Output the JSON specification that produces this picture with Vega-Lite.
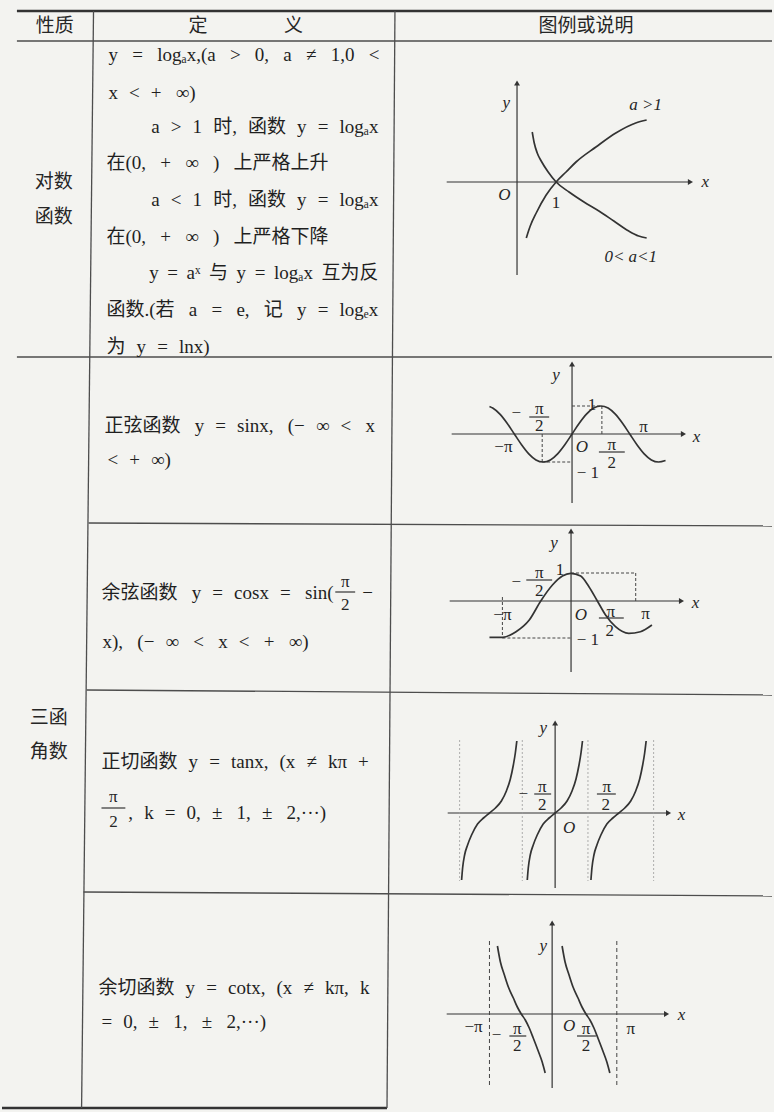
{
  "$schema": "https://vega.github.io/schema/vega-lite/v6.json",
  "width": 774,
  "height": 1112,
  "autosize": {"type": "fit", "contains": "padding"},
  "padding": 0,
  "background": "#f3f3f0",
  "config": {"view": {"stroke": null}},
  "datasets": {
    "rules": [
      {"g": "thick", "x": 15, "y": 11, "x2": 774, "y2": 11},
      {"g": "thick", "x": 0, "y": 1108, "x2": 387, "y2": 1108},
      {"g": "grid", "x": 15, "y": 41, "x2": 774, "y2": 41},
      {"g": "grid", "x": 15, "y": 357, "x2": 774, "y2": 357},
      {"g": "grid", "x": 87, "y": 523, "x2": 774, "y2": 526},
      {"g": "grid", "x": 85, "y": 690, "x2": 774, "y2": 695},
      {"g": "grid", "x": 82, "y": 892, "x2": 774, "y2": 896},
      {"g": "grid", "x": 92, "y": 11, "x2": 80, "y2": 1108},
      {"g": "grid", "x": 395, "y": 11, "x2": 387, "y2": 1108},
      {"g": "axis", "x": 447, "y": 182, "x2": 690, "y2": 182},
      {"g": "axis", "x": 517.7, "y": 275, "x2": 517.7, "y2": 85},
      {"g": "axis", "x": 452, "y": 434, "x2": 683, "y2": 434},
      {"g": "axis", "x": 573, "y": 503, "x2": 573, "y2": 366},
      {"g": "axis", "x": 450, "y": 601, "x2": 681, "y2": 601},
      {"g": "axis", "x": 572, "y": 672, "x2": 572, "y2": 533},
      {"g": "axis", "x": 448, "y": 813, "x2": 668, "y2": 813},
      {"g": "axis", "x": 556, "y": 888, "x2": 556, "y2": 725},
      {"g": "axis", "x": 447, "y": 1014, "x2": 666, "y2": 1014},
      {"g": "axis", "x": 553, "y": 1088, "x2": 553, "y2": 925},
      {"g": "frac", "x": 530, "y": 417, "x2": 550, "y2": 417},
      {"g": "frac", "x": 600, "y": 452, "x2": 626, "y2": 452},
      {"g": "frac", "x": 527, "y": 580, "x2": 553, "y2": 580},
      {"g": "frac", "x": 600, "y": 618, "x2": 625, "y2": 618},
      {"g": "frac", "x": 535, "y": 794, "x2": 552, "y2": 794},
      {"g": "frac", "x": 598, "y": 794, "x2": 617, "y2": 794},
      {"g": "frac", "x": 510, "y": 1036, "x2": 527, "y2": 1036},
      {"g": "frac", "x": 578, "y": 1036, "x2": 597, "y2": 1036},
      {"g": "frac", "x": 335, "y": 592, "x2": 355, "y2": 592},
      {"g": "frac", "x": 100, "y": 808, "x2": 124, "y2": 808},
      {"g": "dash", "x": 573, "y": 406, "x2": 603, "y2": 406},
      {"g": "dash", "x": 603, "y": 406, "x2": 603, "y2": 434},
      {"g": "dash", "x": 543, "y": 434, "x2": 543, "y2": 462},
      {"g": "dash", "x": 543, "y": 462, "x2": 573, "y2": 462},
      {"g": "dash", "x": 572, "y": 573, "x2": 637, "y2": 573},
      {"g": "dash", "x": 637, "y": 573, "x2": 637, "y2": 601},
      {"g": "dash", "x": 503, "y": 597, "x2": 503, "y2": 637},
      {"g": "dash", "x": 503, "y": 638, "x2": 572, "y2": 638},
      {"g": "dash2", "x": 490, "y": 941, "x2": 490, "y2": 1085},
      {"g": "dash2", "x": 618, "y": 941, "x2": 618, "y2": 1085},
      {"g": "asym", "x": 460, "y": 740, "x2": 460, "y2": 881},
      {"g": "asym", "x": 523, "y": 740, "x2": 523, "y2": 881},
      {"g": "asym", "x": 589, "y": 740, "x2": 589, "y2": 881},
      {"g": "asym", "x": 655, "y": 740, "x2": 655, "y2": 881}
    ],
    "arrows": [
      {"d": "r", "x": 692, "y": 182}, {"d": "u", "x": 517.7, "y": 83},
      {"d": "r", "x": 685, "y": 434}, {"d": "u", "x": 573, "y": 364},
      {"d": "r", "x": 683, "y": 601}, {"d": "u", "x": 572, "y": 531},
      {"d": "r", "x": 670, "y": 813}, {"d": "u", "x": 556, "y": 723},
      {"d": "r", "x": 668, "y": 1014}, {"d": "u", "x": 553, "y": 923}
    ],
    "curves": [
      {"c": "loga", "x": 527, "y": 238}, {"c": "loga", "x": 531, "y": 226}, {"c": "loga", "x": 537, "y": 213},
      {"c": "loga", "x": 547, "y": 195}, {"c": "loga", "x": 557, "y": 182}, {"c": "loga", "x": 567, "y": 172},
      {"c": "loga", "x": 577, "y": 162}, {"c": "loga", "x": 597, "y": 147}, {"c": "loga", "x": 617, "y": 133},
      {"c": "loga", "x": 637, "y": 123}, {"c": "loga", "x": 648, "y": 120},
      {"c": "logb", "x": 533, "y": 132}, {"c": "logb", "x": 535, "y": 143}, {"c": "logb", "x": 538, "y": 153},
      {"c": "logb", "x": 542, "y": 161}, {"c": "logb", "x": 549, "y": 172}, {"c": "logb", "x": 557, "y": 182},
      {"c": "logb", "x": 570, "y": 192}, {"c": "logb", "x": 585, "y": 202}, {"c": "logb", "x": 600, "y": 211},
      {"c": "logb", "x": 615, "y": 221}, {"c": "logb", "x": 630, "y": 231}, {"c": "logb", "x": 640, "y": 236},
      {"c": "logb", "x": 648, "y": 238},
      {"c": "sin", "x": 490, "y": 406.5}, {"c": "sin", "x": 493.25, "y": 408.1}, {"c": "sin", "x": 500.5, "y": 414.2},
      {"c": "sin", "x": 507.75, "y": 423.3}, {"c": "sin", "x": 515, "y": 434}, {"c": "sin", "x": 522.25, "y": 444.7},
      {"c": "sin", "x": 529.5, "y": 453.8}, {"c": "sin", "x": 536.75, "y": 459.9}, {"c": "sin", "x": 544, "y": 462},
      {"c": "sin", "x": 551.25, "y": 459.9}, {"c": "sin", "x": 558.5, "y": 453.8}, {"c": "sin", "x": 565.75, "y": 444.7},
      {"c": "sin", "x": 573, "y": 434}, {"c": "sin", "x": 580.25, "y": 423.3}, {"c": "sin", "x": 587.5, "y": 414.2},
      {"c": "sin", "x": 594.75, "y": 408.1}, {"c": "sin", "x": 602, "y": 406}, {"c": "sin", "x": 609.25, "y": 408.1},
      {"c": "sin", "x": 616.5, "y": 414.2}, {"c": "sin", "x": 623.75, "y": 423.3}, {"c": "sin", "x": 631, "y": 434},
      {"c": "sin", "x": 638.25, "y": 444.7}, {"c": "sin", "x": 645.5, "y": 453.8}, {"c": "sin", "x": 652.75, "y": 459.9},
      {"c": "sin", "x": 660, "y": 462}, {"c": "sin", "x": 667, "y": 460.5},
      {"c": "cos", "x": 490, "y": 637.3}, {"c": "cos", "x": 503.3, "y": 637.3}, {"c": "cos", "x": 516.7, "y": 631.7},
      {"c": "cos", "x": 530, "y": 620}, {"c": "cos", "x": 541.7, "y": 600.7}, {"c": "cos", "x": 553.3, "y": 585},
      {"c": "cos", "x": 563.3, "y": 576}, {"c": "cos", "x": 571.7, "y": 573.3}, {"c": "cos", "x": 581.7, "y": 576},
      {"c": "cos", "x": 590, "y": 586.7}, {"c": "cos", "x": 598.3, "y": 600.7}, {"c": "cos", "x": 606.7, "y": 615},
      {"c": "cos", "x": 616.7, "y": 626.7}, {"c": "cos", "x": 630, "y": 633.3}, {"c": "cos", "x": 641.7, "y": 631.7},
      {"c": "cos", "x": 653.3, "y": 625},
      {"c": "tan1", "x": 462, "y": 880}, {"c": "tan1", "x": 463, "y": 868}, {"c": "tan1", "x": 465, "y": 855},
      {"c": "tan1", "x": 468, "y": 845}, {"c": "tan1", "x": 472, "y": 835}, {"c": "tan1", "x": 478, "y": 824},
      {"c": "tan1", "x": 484, "y": 818}, {"c": "tan1", "x": 490, "y": 813}, {"c": "tan1", "x": 496, "y": 808},
      {"c": "tan1", "x": 502, "y": 801}, {"c": "tan1", "x": 507, "y": 791}, {"c": "tan1", "x": 511, "y": 779},
      {"c": "tan1", "x": 514, "y": 765}, {"c": "tan1", "x": 516, "y": 753}, {"c": "tan1", "x": 517.5, "y": 741},
      {"c": "tan2", "x": 528, "y": 880}, {"c": "tan2", "x": 529, "y": 868}, {"c": "tan2", "x": 531, "y": 855},
      {"c": "tan2", "x": 534, "y": 845}, {"c": "tan2", "x": 538, "y": 835}, {"c": "tan2", "x": 544, "y": 824},
      {"c": "tan2", "x": 550, "y": 818}, {"c": "tan2", "x": 556, "y": 813}, {"c": "tan2", "x": 562, "y": 808},
      {"c": "tan2", "x": 568, "y": 801}, {"c": "tan2", "x": 573, "y": 791}, {"c": "tan2", "x": 577, "y": 779},
      {"c": "tan2", "x": 580, "y": 765}, {"c": "tan2", "x": 582, "y": 753}, {"c": "tan2", "x": 583.5, "y": 741},
      {"c": "tan3", "x": 592, "y": 880}, {"c": "tan3", "x": 593, "y": 868}, {"c": "tan3", "x": 595, "y": 855},
      {"c": "tan3", "x": 598, "y": 845}, {"c": "tan3", "x": 602, "y": 835}, {"c": "tan3", "x": 608, "y": 824},
      {"c": "tan3", "x": 614, "y": 818}, {"c": "tan3", "x": 620, "y": 813}, {"c": "tan3", "x": 626, "y": 808},
      {"c": "tan3", "x": 632, "y": 801}, {"c": "tan3", "x": 637, "y": 791}, {"c": "tan3", "x": 641, "y": 779},
      {"c": "tan3", "x": 644, "y": 765}, {"c": "tan3", "x": 646, "y": 753}, {"c": "tan3", "x": 647.5, "y": 741},
      {"c": "cot1", "x": 498, "y": 946}, {"c": "cot1", "x": 501, "y": 962}, {"c": "cot1", "x": 505, "y": 975},
      {"c": "cot1", "x": 509, "y": 987}, {"c": "cot1", "x": 514, "y": 998}, {"c": "cot1", "x": 518, "y": 1007},
      {"c": "cot1", "x": 522, "y": 1014}, {"c": "cot1", "x": 526, "y": 1020}, {"c": "cot1", "x": 530, "y": 1028},
      {"c": "cot1", "x": 534, "y": 1038}, {"c": "cot1", "x": 539, "y": 1051}, {"c": "cot1", "x": 543, "y": 1062},
      {"c": "cot1", "x": 546, "y": 1073},
      {"c": "cot2", "x": 563, "y": 946}, {"c": "cot2", "x": 566, "y": 962}, {"c": "cot2", "x": 570, "y": 975},
      {"c": "cot2", "x": 574, "y": 987}, {"c": "cot2", "x": 579, "y": 998}, {"c": "cot2", "x": 583, "y": 1007},
      {"c": "cot2", "x": 587, "y": 1014}, {"c": "cot2", "x": 591, "y": 1020}, {"c": "cot2", "x": 595, "y": 1028},
      {"c": "cot2", "x": 599, "y": 1038}, {"c": "cot2", "x": 604, "y": 1051}, {"c": "cot2", "x": 608, "y": 1062},
      {"c": "cot2", "x": 611, "y": 1073}
    ],
    "texts": [
      {"g": "head", "x": 53, "y": 26, "t": "性质"},
      {"g": "head", "x": 197, "y": 26, "t": "定"},
      {"g": "head", "x": 293, "y": 26, "t": "义"},
      {"g": "head", "x": 587, "y": 26, "t": "图例或说明"},
      {"g": "head", "x": 52, "y": 182, "t": "对数"},
      {"g": "head", "x": 52, "y": 217, "t": "函数"},
      {"g": "head", "x": 47, "y": 718, "t": "三函"},
      {"g": "head", "x": 47, "y": 752, "t": "角数"},
      {"g": "body", "x": 107, "y": 55, "t": "y \u2002= \u2002logₐx,(a \u2002> \u20020, \u2002a \u2002≠ \u20021,0 \u2002<"},
      {"g": "body", "x": 107, "y": 93, "t": "x \u2004< \u2004+ \u2002∞)"},
      {"g": "body", "x": 150, "y": 127, "t": "a \u2004> \u20041 \u2004时, \u2004函数 \u2004y \u2004= \u2004logₐx"},
      {"g": "body", "x": 105, "y": 163, "t": "在(0, \u2002+ \u2002∞ \u2002) \u2002上严格上升"},
      {"g": "body", "x": 150, "y": 200, "t": "a \u2004< \u20041 \u2004时, \u2004函数 \u2004y \u2004= \u2004logₐx"},
      {"g": "body", "x": 105, "y": 237, "t": "在(0, \u2002+ \u2002∞ \u2002) \u2002上严格下降"},
      {"g": "body", "x": 148, "y": 273, "t": "y \u2009= \u2009aˣ \u2009与 \u2009y \u2009= \u2009logₐx \u2009互为反"},
      {"g": "body", "x": 105, "y": 310, "t": "函数.(若 \u2002a \u2002= \u2002e, \u2002记 \u2002y \u2004= \u2004logₑx"},
      {"g": "body", "x": 105, "y": 347, "t": "为 \u2004y \u2004= \u2004lnx)"},
      {"g": "body", "x": 103, "y": 426, "t": "正弦函数 \u2002y \u2004= \u2004sinx, \u2002(− \u2004∞ \u2004< \u2002x"},
      {"g": "body", "x": 106, "y": 460, "t": "< \u2004+ \u2004∞)"},
      {"g": "body", "x": 100, "y": 593, "t": "余弦函数 \u2002y \u2004= \u2004cosx \u2004= \u2002sin("},
      {"g": "body", "x": 362, "y": 593, "t": "−"},
      {"g": "body", "x": 101, "y": 642, "t": "x), \u2002(− \u2004∞ \u2002< \u2002x \u2004< \u2002+ \u2002∞)"},
      {"g": "body", "x": 100, "y": 762, "t": "正切函数 \u2004y \u2004= \u2004tanx, \u2004(x \u2004≠ \u2004kπ \u2004+"},
      {"g": "body", "x": 127, "y": 813, "t": ", \u2004k \u2004= \u20040, \u2004± \u20021, \u2004± \u20022,···)"},
      {"g": "body", "x": 97, "y": 988, "t": "余切函数 \u2004y \u2004= \u2004cotx, \u2004(x \u2004≠ \u2004kπ, \u2004k"},
      {"g": "body", "x": 100, "y": 1022, "t": "= \u20040, \u2004± \u20021, \u2002± \u20022,···)"},
      {"g": "num", "x": 345, "y": 582, "t": "π"},
      {"g": "num", "x": 345, "y": 605, "t": "2"},
      {"g": "num", "x": 112, "y": 797, "t": "π"},
      {"g": "num", "x": 112, "y": 822, "t": "2"},
      {"g": "it", "x": 507, "y": 103, "t": "y"},
      {"g": "it", "x": 647, "y": 105, "t": "a >1"},
      {"g": "it", "x": 707, "y": 182, "t": "x"},
      {"g": "it", "x": 505, "y": 195, "t": "O"},
      {"g": "num", "x": 557, "y": 203, "t": "1"},
      {"g": "it", "x": 632, "y": 257, "t": "0< a<1"},
      {"g": "it", "x": 557, "y": 375, "t": "y"},
      {"g": "num", "x": 593, "y": 405, "t": "1"},
      {"g": "num", "x": 517, "y": 413, "t": "−"},
      {"g": "num", "x": 540, "y": 409, "t": "π"},
      {"g": "num", "x": 540, "y": 426, "t": "2"},
      {"g": "num", "x": 645, "y": 427, "t": "π"},
      {"g": "num", "x": 504, "y": 447, "t": "−π"},
      {"g": "it", "x": 583, "y": 447, "t": "O"},
      {"g": "num", "x": 613, "y": 445, "t": "π"},
      {"g": "num", "x": 613, "y": 463, "t": "2"},
      {"g": "num", "x": 589, "y": 473, "t": "− 1"},
      {"g": "it", "x": 698, "y": 437, "t": "x"},
      {"g": "it", "x": 555, "y": 543, "t": "y"},
      {"g": "num", "x": 561, "y": 570, "t": "1"},
      {"g": "num", "x": 517, "y": 582, "t": "−"},
      {"g": "num", "x": 540, "y": 573, "t": "π"},
      {"g": "num", "x": 540, "y": 591, "t": "2"},
      {"g": "num", "x": 503, "y": 615, "t": "−π"},
      {"g": "it", "x": 582, "y": 615, "t": "O"},
      {"g": "num", "x": 612, "y": 612, "t": "π"},
      {"g": "num", "x": 611, "y": 631, "t": "2"},
      {"g": "num", "x": 647, "y": 614, "t": "π"},
      {"g": "num", "x": 589, "y": 640, "t": "− 1"},
      {"g": "it", "x": 697, "y": 603, "t": "x"},
      {"g": "it", "x": 544, "y": 728, "t": "y"},
      {"g": "num", "x": 524, "y": 794, "t": "−"},
      {"g": "num", "x": 543, "y": 787, "t": "π"},
      {"g": "num", "x": 543, "y": 805, "t": "2"},
      {"g": "num", "x": 608, "y": 787, "t": "π"},
      {"g": "num", "x": 607, "y": 805, "t": "2"},
      {"g": "it", "x": 570, "y": 828, "t": "O"},
      {"g": "it", "x": 683, "y": 815, "t": "x"},
      {"g": "it", "x": 544, "y": 946, "t": "y"},
      {"g": "num", "x": 474, "y": 1027, "t": "−π"},
      {"g": "num", "x": 497, "y": 1035, "t": "−"},
      {"g": "num", "x": 518, "y": 1029, "t": "π"},
      {"g": "num", "x": 518, "y": 1046, "t": "2"},
      {"g": "it", "x": 570, "y": 1026, "t": "O"},
      {"g": "num", "x": 587, "y": 1029, "t": "π"},
      {"g": "num", "x": 587, "y": 1046, "t": "2"},
      {"g": "num", "x": 632, "y": 1029, "t": "π"},
      {"g": "it", "x": 683, "y": 1015, "t": "x"}
    ]
  },
  "encoding": {
    "x": {"field": "x", "type": "quantitative", "scale": {"domain": [0, 774], "nice": false, "zero": false}, "axis": null},
    "y": {"field": "y", "type": "quantitative", "scale": {"domain": [0, 1112], "nice": false, "zero": false, "reverse": true}, "axis": null}
  },
  "layer": [
    {
      "data": {"name": "rules"},
      "transform": [{"filter": "datum.g === 'thick'"}],
      "mark": {"type": "rule", "color": "#333333", "strokeWidth": 2.4},
      "encoding": {"x2": {"field": "x2"}, "y2": {"field": "y2"}}
    },
    {
      "data": {"name": "rules"},
      "transform": [{"filter": "datum.g === 'grid'"}],
      "mark": {"type": "rule", "color": "#4d4d4d", "strokeWidth": 1.3},
      "encoding": {"x2": {"field": "x2"}, "y2": {"field": "y2"}}
    },
    {
      "data": {"name": "rules"},
      "transform": [{"filter": "datum.g === 'axis' || datum.g === 'frac'"}],
      "mark": {"type": "rule", "color": "#333333", "strokeWidth": 1.2},
      "encoding": {"x2": {"field": "x2"}, "y2": {"field": "y2"}}
    },
    {
      "data": {"name": "rules"},
      "transform": [{"filter": "datum.g === 'dash'"}],
      "mark": {"type": "rule", "color": "#444444", "strokeWidth": 1, "strokeDash": [3, 2]},
      "encoding": {"x2": {"field": "x2"}, "y2": {"field": "y2"}}
    },
    {
      "data": {"name": "rules"},
      "transform": [{"filter": "datum.g === 'dash2'"}],
      "mark": {"type": "rule", "color": "#444444", "strokeWidth": 1, "strokeDash": [4, 3]},
      "encoding": {"x2": {"field": "x2"}, "y2": {"field": "y2"}}
    },
    {
      "data": {"name": "rules"},
      "transform": [{"filter": "datum.g === 'asym'"}],
      "mark": {"type": "rule", "color": "#9a9a9a", "strokeWidth": 0.8, "strokeDash": [2, 2]},
      "encoding": {"x2": {"field": "x2"}, "y2": {"field": "y2"}}
    },
    {
      "data": {"name": "arrows"},
      "mark": {"type": "point", "filled": true, "color": "#333333", "size": 35, "opacity": 1},
      "encoding": {
        "shape": {"field": "d", "type": "nominal", "scale": {"domain": ["r", "u"], "range": ["triangle-right", "triangle-up"]}, "legend": null}
      }
    },
    {
      "data": {"name": "curves"},
      "mark": {"type": "line", "color": "#333333", "strokeWidth": 1.7, "interpolate": "monotone"},
      "encoding": {"detail": {"field": "c", "type": "nominal"}}
    },
    {
      "data": {"name": "texts"},
      "transform": [{"filter": "datum.g === 'head'"}],
      "mark": {"type": "text", "align": "center", "baseline": "middle", "fontSize": 19, "font": "Noto Sans CJK SC", "color": "#262626"},
      "encoding": {"text": {"field": "t"}}
    },
    {
      "data": {"name": "texts"},
      "transform": [{"filter": "datum.g === 'body'"}],
      "mark": {"type": "text", "align": "left", "baseline": "middle", "fontSize": 19, "font": "Liberation Serif, Noto Sans CJK SC", "color": "#1f1f1f"},
      "encoding": {"text": {"field": "t"}}
    },
    {
      "data": {"name": "texts"},
      "transform": [{"filter": "datum.g === 'num'"}],
      "mark": {"type": "text", "align": "center", "baseline": "middle", "fontSize": 17, "font": "Liberation Serif", "color": "#262626"},
      "encoding": {"text": {"field": "t"}}
    },
    {
      "data": {"name": "texts"},
      "transform": [{"filter": "datum.g === 'it'"}],
      "mark": {"type": "text", "align": "center", "baseline": "middle", "fontSize": 17, "font": "Liberation Serif", "fontStyle": "italic", "color": "#262626"},
      "encoding": {"text": {"field": "t"}}
    }
  ]
}
